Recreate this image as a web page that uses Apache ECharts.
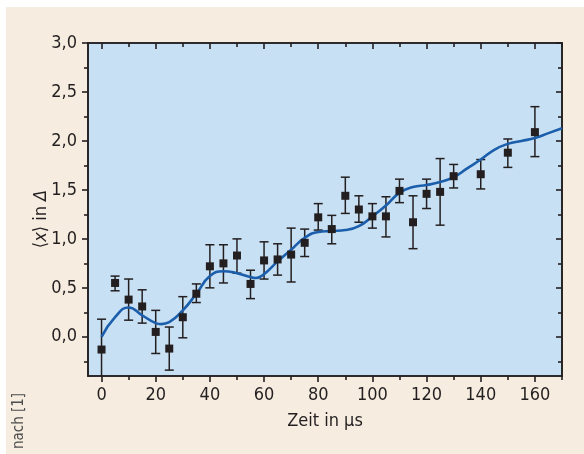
<!DOCTYPE html>
<html lang="de">
<head>
    <meta charset="UTF-8">
    <title>Zeit in µs</title>
    <script src="https://cdn.jsdelivr.net/npm/echarts@6/dist/echarts.min.js"></script>
    <style>
        html,body{margin:0;padding:0;background:#ffffff}
        #chart{width:584px;height:454px}
    </style>
</head>
<body>
    <div id="chart"></div>
    <script>
        // Messpunkte
        var times = [0, 5, 10, 15, 20, 25, 30, 35, 40, 45, 50, 55, 60, 65, 70, 75, 80, 85, 90, 95, 100, 105, 110, 115, 120, 125, 130, 140, 150, 160];
        var means = [-0.13, 0.55, 0.38, 0.31, 0.05, -0.12, 0.20, 0.44, 0.72, 0.75, 0.83, 0.54, 0.78, 0.79, 0.84, 0.96, 1.22, 1.10, 1.44, 1.30, 1.23, 1.23, 1.49, 1.17, 1.46, 1.48, 1.64, 1.66, 1.88, 2.09];
        var errLow = [-0.44, 0.47, 0.17, 0.14, -0.17, -0.34, -0.01, 0.35, 0.50, 0.55, 0.65, 0.39, 0.59, 0.63, 0.56, 0.82, 1.09, 0.95, 1.26, 1.17, 1.11, 1.02, 1.37, 0.90, 1.31, 1.14, 1.52, 1.51, 1.73, 1.84];
        var errHigh = [0.18, 0.62, 0.59, 0.48, 0.27, 0.10, 0.41, 0.54, 0.94, 0.94, 1.00, 0.68, 0.97, 0.95, 1.11, 1.10, 1.36, 1.24, 1.63, 1.44, 1.36, 1.43, 1.61, 1.44, 1.61, 1.82, 1.76, 1.81, 2.02, 2.35];

        // Fitkurve
        var fitT = [0, 5, 10, 15, 20, 22, 25, 30, 35, 40, 45, 50, 55, 57, 60, 65, 70, 75, 80, 85, 90, 95, 100, 105, 110, 115, 120, 125, 130, 135, 140, 145, 150, 155, 160, 165, 170];
        var fitY = [0.0, 0.20, 0.30, 0.22, 0.14, 0.13, 0.15, 0.27, 0.44, 0.62, 0.67, 0.65, 0.61, 0.60, 0.64, 0.77, 0.89, 1.01, 1.07, 1.08, 1.09, 1.13, 1.23, 1.34, 1.47, 1.53, 1.55, 1.58, 1.63, 1.72, 1.81, 1.91, 1.97, 2.00, 2.03, 2.08, 2.13];

        // Ticks
        var xMajor = [0, 20, 40, 60, 80, 100, 120, 140, 160];
        var xMinor = [10, 30, 50, 70, 90, 110, 130, 150, 170];
        var yMajor = [0, 0.5, 1.0, 1.5, 2.0, 2.5, 3.0];
        var yMinor = [-0.25, 0.25, 0.75, 1.25, 1.75, 2.25, 2.75];

        var ink = '#231f20';
        var font = '"Liberation Sans Narrow", "DejaVu Sans Condensed", sans-serif';

        var points = times.map(function (t, i) { return [t, means[i]]; });
        var bars = times.map(function (t, i) { return [t, errLow[i], errHigh[i]]; });
        var fit = fitT.map(function (t, i) { return [t, fitY[i]]; });

        function xAx(pos, ticks, len, inside, labels) {
            return {
                type: 'value', min: -5, max: 170, position: pos,
                axisLine: {show: true, onZero: false, lineStyle: {color: ink, width: 1.6}},
                axisTick: {show: true, customValues: ticks, length: len, inside: inside, lineStyle: {color: ink, width: 1.6}},
                axisLabel: labels ? {customValues: ticks, margin: 10, fontSize: 18, color: ink, fontFamily: font} : {show: false},
                splitLine: {show: false}
            };
        }
        function yAx(pos, ticks, len, inside, labels) {
            return {
                type: 'value', min: -0.4, max: 3.0, position: pos,
                axisLine: {show: true, onZero: false, lineStyle: {color: ink, width: 1.6}},
                axisTick: {show: true, customValues: ticks, length: len, inside: inside, lineStyle: {color: ink, width: 1.6}},
                axisLabel: labels ? {
                    customValues: ticks, margin: 11, fontSize: 18, color: ink, fontFamily: font,
                    formatter: function (v) { return v.toFixed(1).replace('.', ','); }
                } : {show: false},
                splitLine: {show: false}
            };
        }

        var chart = echarts.init(document.getElementById('chart'));
        var option = {
            animation: false,
            graphic: [
                {type: 'rect', z: -10, shape: {x: 6, y: 7, width: 578, height: 447}, style: {fill: '#f6ede0'}},
                {type: 'text', x: 41, y: 219, rotation: Math.PI / 2,
                    style: {
                        text: '⟨{i|x}⟩ in {i|Δ}', align: 'center', verticalAlign: 'middle',
                        fontSize: 18, fontFamily: font, fill: ink,
                        rich: {i: {fontStyle: 'italic', fontSize: 18, fontFamily: font, fill: ink}}
                    }},
                {type: 'text', x: 19, y: 421, rotation: Math.PI / 2,
                    style: {text: 'nach [1]', align: 'center', verticalAlign: 'middle', fontSize: 15, fontFamily: font, fill: '#4d4d4d'}}
            ],
            grid: {left: 88, top: 43, right: 22, bottom: 78, show: true, backgroundColor: '#c8e0f3', borderWidth: 0},
            xAxis: [
                Object.assign(xAx('bottom', xMajor, 6, false, true), {
                    name: 'Zeit in µs', nameLocation: 'middle', nameGap: 36,
                    nameTextStyle: {fontSize: 18, color: ink, fontFamily: font}
                }),
                xAx('bottom', xMinor, 4, false, false),
                xAx('top', xMajor, 6, true, false),
                xAx('top', xMinor, 4, true, false)
            ],
            yAxis: [
                yAx('left', yMajor, 6, false, true),
                yAx('left', yMinor, 4, false, false),
                yAx('right', yMajor, 6, true, false),
                yAx('right', yMinor, 4, true, false)
            ],
            series: [
                {
                    type: 'custom', data: bars, clip: true, z: 2,
                    renderItem: function (params, api) {
                        var lo = api.coord([api.value(0), api.value(1)]);
                        var hi = api.coord([api.value(0), api.value(2)]);
                        var hw = 4.5;
                        var st = {stroke: ink, lineWidth: 1.5};
                        return {
                            type: 'group',
                            children: [
                                {type: 'line', shape: {x1: lo[0], y1: lo[1], x2: hi[0], y2: hi[1]}, style: st},
                                {type: 'line', shape: {x1: lo[0] - hw, y1: lo[1], x2: lo[0] + hw, y2: lo[1]}, style: st},
                                {type: 'line', shape: {x1: hi[0] - hw, y1: hi[1], x2: hi[0] + hw, y2: hi[1]}, style: st}
                            ]
                        };
                    }
                },
                {
                    type: 'line', data: fit, smooth: 0.5, showSymbol: false, z: 3,
                    lineStyle: {color: '#1b5eab', width: 2.6}
                },
                {
                    type: 'scatter', data: points, symbol: 'rect', symbolSize: 8, z: 4,
                    itemStyle: {color: ink, opacity: 1}
                }
            ]
        };
        chart.setOption(option);
    </script>
</body>
</html>
